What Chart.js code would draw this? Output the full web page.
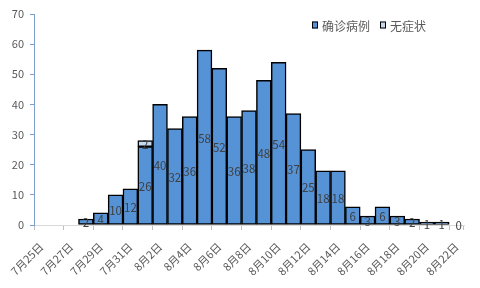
<!DOCTYPE html>
<html>
<head>
<meta charset="utf-8">
<script src="https://cdn.jsdelivr.net/npm/chart.js@4/dist/chart.umd.min.js"></script>
<style>
  html, body { margin: 0; padding: 0; background: #fff; }
  #wrap { width: 480px; height: 288px; }
</style>
</head>
<body>
<div id="wrap"><canvas id="c" width="480" height="288"></canvas></div>
<script>
'use strict';

/* ── Data ─────────────────────────────────────────────── */

const dates = [
  '7月25日', '7月26日', '7月27日', '7月28日', '7月29日', '7月30日', '7月31日',
  '8月1日', '8月2日', '8月3日', '8月4日', '8月5日', '8月6日', '8月7日',
  '8月8日', '8月9日', '8月10日', '8月11日', '8月12日', '8月13日', '8月14日',
  '8月15日', '8月16日', '8月17日', '8月18日', '8月19日', '8月20日', '8月21日', '8月22日',
];

const confirmed = [
  null, null, null, 2, 4, 10, 12,
  26, 40, 32, 36, 58, 52, 36,
  38, 48, 54, 37, 25, 18, 18,
  6, 3, 6, 3, 2, 1, 1, 0,
];

const asymptomatic = [
  null, null, null, null, null, null, null,
  2, null, null, null, null, null, null,
  null, null, null, null, null, null, null,
  null, null, null, null, null, null, null, null,
];

const yTicks = [0, 10, 20, 30, 40, 50, 60, 70];

const COLORS = {
  confirmed: '#5592d6',
  asymptomatic: '#c6d9f1',
};

const FONT = '"Noto Sans CJK SC", "Noto Sans", sans-serif';

/* ── Value labels centred in each bar ─────────────────── */

const barLabels = {
  id: 'barLabels',
  afterDatasetsDraw(chart) {
    const { ctx } = chart;
    ctx.save();
    ctx.font = '11.5px ' + FONT;
    ctx.fillStyle = '#404040';
    ctx.textAlign = 'center';
    ctx.textBaseline = 'middle';
    chart.data.datasets.forEach((ds, di) => {
      const meta = chart.getDatasetMeta(di);
      meta.data.forEach((el, i) => {
        const v = ds.data[i];
        if (v === null || v === undefined) return;
        const y = v === 0 ? el.base : (el.y + el.base) / 2;
        ctx.fillText(String(v), v === 0 ? el.x + 2 : el.x, y + 1);
      });
    });
    ctx.restore();
  },
};

/* ── Legend drawn inside the plot, top right ──────────── */

const innerLegend = {
  id: 'innerLegend',
  afterDraw(chart) {
    const { ctx } = chart;
    ctx.save();
    ctx.font = '12px ' + FONT;
    ctx.textBaseline = 'middle';
    let x = 312;
    const y = 25;
    chart.data.datasets.forEach(ds => {
      ctx.fillStyle = ds.backgroundColor;
      ctx.fillRect(x, y - 3.5, 6, 7);
      ctx.strokeStyle = '#000';
      ctx.lineWidth = 1;
      ctx.strokeRect(x + 0.5, y - 3, 5, 6);
      ctx.fillStyle = '#595959';
      ctx.textAlign = 'left';
      ctx.fillText(ds.label, x + 10, y + 1);
      x += 10 + ctx.measureText(ds.label).width + 10;
    });
    ctx.restore();
  },
};

/* ── Chart ────────────────────────────────────────────── */

const barOpts = {
  borderColor: '#000',
  borderWidth: 1.5,
  borderSkipped: false,
  categoryPercentage: 1,
  barPercentage: 1,
};

new Chart(document.getElementById('c'), {
  type: 'bar',
  data: {
    labels: dates,
    datasets: [
      {
        label: '确诊病例',
        data: confirmed,
        backgroundColor: COLORS.confirmed,
        ...barOpts,
      },
      {
        label: '无症状',
        data: asymptomatic,
        backgroundColor: COLORS.asymptomatic,
        ...barOpts,
      },
    ],
  },
  options: {
    responsive: false,
    animation: false,
    layout: { padding: { top: 14, right: 16, left: 0, bottom: 0 } },
    plugins: {
      legend: { display: false },
      tooltip: { enabled: false },
    },
    scales: {
      x: {
        stacked: true,
        offset: true,
        afterFit(scale) { scale.height = 63; },
        border: { color: '#d9d9d9', width: 1 },
        grid: {
          offset: true,
          drawOnChartArea: false,
          tickLength: 5,
          tickColor: ctx => (ctx.index % 2 ? 'rgba(0,0,0,0)' : '#bfbfbf'),
        },
        ticks: {
          autoSkip: false,
          minRotation: 45,
          maxRotation: 45,
          color: '#595959',
          font: { family: FONT, size: 11 },
          padding: 10,
          callback: (v, i) => (i % 2 ? '' : dates[i]),
        },
      },
      y: {
        stacked: true,
        min: 0,
        max: 70,
        afterFit(scale) { scale.width = 34; },
        afterBuildTicks(scale) { scale.ticks = yTicks.map(v => ({ value: v })); },
        border: { color: '#7f9fcf', width: 1 },
        grid: {
          drawOnChartArea: false,
          tickLength: 4,
          tickColor: '#7f9fcf',
        },
        ticks: {
          color: '#595959',
          font: { family: FONT, size: 11 },
          padding: 6,
        },
      },
    },
  },
  plugins: [barLabels, innerLegend],
});
</script>
</body>
</html>
